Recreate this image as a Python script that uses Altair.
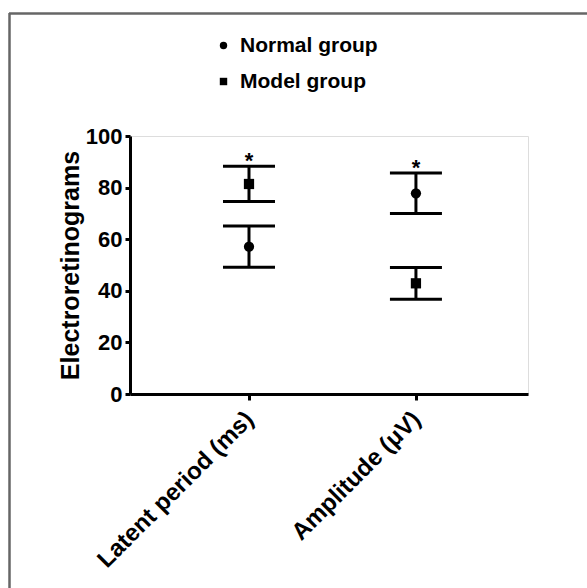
import altair as alt
import pandas as pd

categories = ["Latent period (ms)", "Amplitude (μV)"]
groups = ["Normal group", "Model group"]
normal_mean = [57.1, 77.8]
normal_lo = [49.1, 70.0]
normal_hi = [65.1, 85.7]
model_mean = [81.4, 42.9]
model_lo = [74.6, 36.7]
model_hi = [88.3, 49.0]
star_y = [88.3, 85.7]
star_text = ["*", "*"]

rows = []
for i, c in enumerate(categories):
    rows.append({"cat": c, "group": groups[0], "mean": normal_mean[i], "lo": normal_lo[i], "hi": normal_hi[i]})
    rows.append({"cat": c, "group": groups[1], "mean": model_mean[i], "lo": model_lo[i], "hi": model_hi[i]})
df = pd.DataFrame(rows)
stars = pd.DataFrame({"cat": categories, "y": star_y, "t": star_text})

FONT = "Liberation Sans"
W, H = 398, 258
PL, PT = 130, 136

xenc = alt.X("cat:N", sort=categories, title=None,
             scale=alt.Scale(type="point", padding=0.692, align=0.515),
             axis=alt.Axis(labelAngle=-45, labelFontSize=24, labelFontWeight="bold",
                           labelFont=FONT, labelColor="black", domainColor="black",
                           domainWidth=3, tickColor="black", tickWidth=3, tickSize=6,
                           labelPadding=7, labelOffset=-8, labelLimit=0))
yscale = alt.Scale(domain=[0, 100], nice=False, zero=True)

rules = alt.Chart(df).mark_rule(color="black", strokeWidth=3).encode(
    x=xenc,
    y=alt.Y("lo:Q", scale=yscale, title="Electroretinograms",
            axis=alt.Axis(values=[0, 20, 40, 60, 80, 100], labelFontSize=22,
                          labelFontWeight="bold", labelFont=FONT, labelColor="black",
                          titleFontSize=25, titleFontWeight="bold", titleFont=FONT,
                          titleColor="black", domainColor="black", domainWidth=3,
                          tickColor="black", tickWidth=3, tickSize=5, labelPadding=3,
                          grid=False, titlePadding=2)),
    y2="hi:Q",
)
cap_lo = alt.Chart(df).mark_tick(color="black", opacity=1, thickness=3, size=52).encode(
    x=alt.X("cat:N", sort=categories), y=alt.Y("lo:Q", scale=yscale))
cap_hi = alt.Chart(df).mark_tick(color="black", opacity=1, thickness=3, size=52).encode(
    x=alt.X("cat:N", sort=categories), y=alt.Y("hi:Q", scale=yscale))
points = alt.Chart(df).mark_point(filled=True, opacity=1, size=105, color="black").encode(
    x=alt.X("cat:N", sort=categories),
    y=alt.Y("mean:Q", scale=yscale),
    shape=alt.Shape("group:N", sort=groups,
                    scale=alt.Scale(domain=groups, range=["circle", "square"]),
                    legend=alt.Legend(title=None, orient="none", legendX=83, legendY=-101,
                                      symbolSize=55, symbolFillColor="black",
                                      symbolStrokeColor="black", labelFontSize=21,
                                      labelFontWeight="bold", labelFont=FONT,
                                      labelColor="black", rowPadding=14, labelOffset=6,
                                      padding=0)),
)
star = alt.Chart(stars).mark_text(fontSize=22, fontWeight="bold", font=FONT, color="black",
                                  baseline="alphabetic", dy=2).encode(
    x=alt.X("cat:N", sort=categories), y=alt.Y("y:Q", scale=yscale), text="t:N")

frame_top = alt.Chart(stars).mark_rule(color="#666666", strokeWidth=2).encode(
    x=alt.value(-PL + 9), x2=alt.value(587 - PL), y=alt.value(-PT + 13.5))
frame_left = alt.Chart(stars).mark_rule(color="#666666", strokeWidth=2).encode(
    x=alt.value(-PL + 9.5), y=alt.value(-PT + 13), y2=alt.value(588 - PT))

chart = alt.layer(rules, cap_lo, cap_hi, points, star, frame_top, frame_left).properties(
    width=W, height=H,
    autosize=alt.AutoSizeParams(type="none"),
    padding={"left": PL, "top": PT, "right": 587 - PL - W, "bottom": 588 - PT - H},
).configure_view(stroke=None).configure(background="white")

chart.save("out.html", embed_options={"renderer": "svg", "actions": False})
